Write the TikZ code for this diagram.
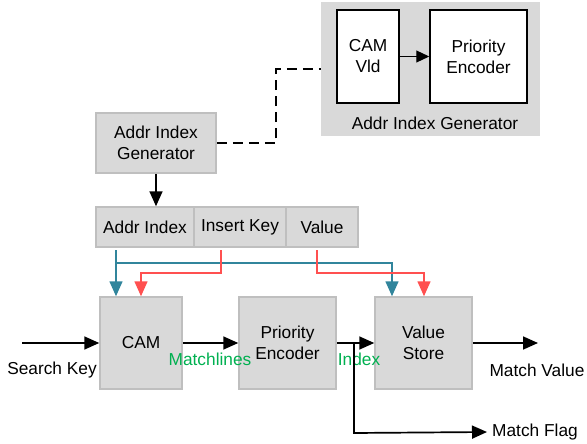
\documentclass[tikz,border=0pt]{standalone}
\usepackage{fontspec}
\setmainfont{Liberation Sans}
\usetikzlibrary{arrows.meta}
\definecolor{boxgray}{HTML}{D9D9D9}
\definecolor{boxedge}{HTML}{BFBFBF}
\definecolor{tealc}{HTML}{31859C}
\definecolor{redc}{HTML}{FF5050}
\definecolor{greenc}{HTML}{00B050}
\begin{document}
\begin{tikzpicture}[x=1pt,y=-1pt,
  font=\fontsize{17.3}{21}\selectfont,
  graybox/.style={draw=boxedge,fill=boxgray,line width=1.5pt,inner sep=0pt,align=center},
  whitebox/.style={draw=black,fill=white,line width=1.5pt,inner sep=0pt,align=center},
  conn/.style={line width=1.7pt,-{Triangle[length=15pt,width=13pt]}},
  lbl/.style={inner sep=0pt,align=center}]
\useasboundingbox (0,0) rectangle (587,444);
% container
\node[fill=boxgray,minimum width=219pt,minimum height=134pt,inner sep=0pt] (cont) at (430.5,69) {};
\node[whitebox,minimum width=62pt,minimum height=93pt] (vld) at (368,56.5) {CAM\\Vld};
\node[whitebox,minimum width=97pt,minimum height=93pt] (pe2) at (478.5,56.5) {Priority\\Encoder};
\node[lbl] (contlbl) at (435,123) {Addr Index Generator};
\draw[line width=1.2pt,-{Triangle[length=13pt,width=12pt]}] (vld.east) -- (pe2.west);
% addr index generator
\node[graybox,minimum width=120pt,minimum height=60pt] (aig) at (156,143) {Addr Index\\Generator};
\coordinate (d1) at (276,143);
\coordinate (d2) at (276,69);
\draw[line width=1.5pt,dash pattern=on 10pt off 6pt] (aig.east) -- (d1) -- (d2) -- (cont.west |- d2);
% row
\node[graybox,minimum width=98pt,minimum height=40pt] (ai) at (145,227) {Addr Index};
\node[graybox,minimum width=92pt,minimum height=40pt] (ik) at (240,227) {Insert Key};
\node[graybox,minimum width=72pt,minimum height=40pt] (val) at (322,227) {Value};
\draw[conn] (aig.south) -- (aig.south |- ai.north);
% bottom row
\node[graybox,minimum width=82pt,minimum height=92pt] (cam) at (141,343) {CAM};
\node[graybox,minimum width=97pt,minimum height=92pt] (pe) at (287.5,343) {Priority\\Encoder};
\node[graybox,minimum width=97pt,minimum height=92pt] (vs) at (423.5,343) {Value\\Store};
% teal
\coordinate (t0) at (116,250);
\coordinate (t1) at (116,263);
\coordinate (t2) at (392,263);
\draw[tealc,line width=1.6pt,-{Triangle[length=15pt,width=13pt]}] (t0) -- (t0 |- cam.north);
\draw[tealc,line width=1.6pt,-{Triangle[length=15pt,width=13pt]}] (t1) -- (t2) -- (t2 |- vs.north);
% red
\coordinate (r0) at (221,250);
\coordinate (r1) at (221,273);
\coordinate (r2) at (141,273);
\draw[redc,line width=1.6pt,-{Triangle[length=15pt,width=13pt]}] (r0) -- (r1) -- (r2) -- (r2 |- cam.north);
\coordinate (s0) at (317,250);
\coordinate (s1) at (317,273);
\coordinate (s2) at (424,273);
\draw[redc,line width=1.6pt,-{Triangle[length=15pt,width=13pt]}] (s0) -- (s1) -- (s2) -- (s2 |- vs.north);
% main flow
\coordinate (sk) at (22,343);
\draw[conn] (sk) -- (cam.west);
\node[lbl] (sklbl) at (52,370) {Search Key};
\draw[conn] (cam.east) -- (pe.west);
\node[lbl,text=greenc] (ml) at (210,359) {Matchlines};
\draw[conn] (pe.east) -- (vs.west);
\node[lbl,text=greenc] (idx) at (359,359) {Index};
\coordinate (mv) at (538,343);
\draw[conn] (vs.east) -- (mv);
\node[lbl] (mvlbl) at (537,370) {Match Value};
\coordinate (br) at (354,343);
\coordinate (br2) at (354,433);
\node[lbl,anchor=west] (mf) at (492,432) {Match Flag};
\draw[conn] (br) -- (br2) -- (mf.west -| 487,0);
\end{tikzpicture}
\end{document}
